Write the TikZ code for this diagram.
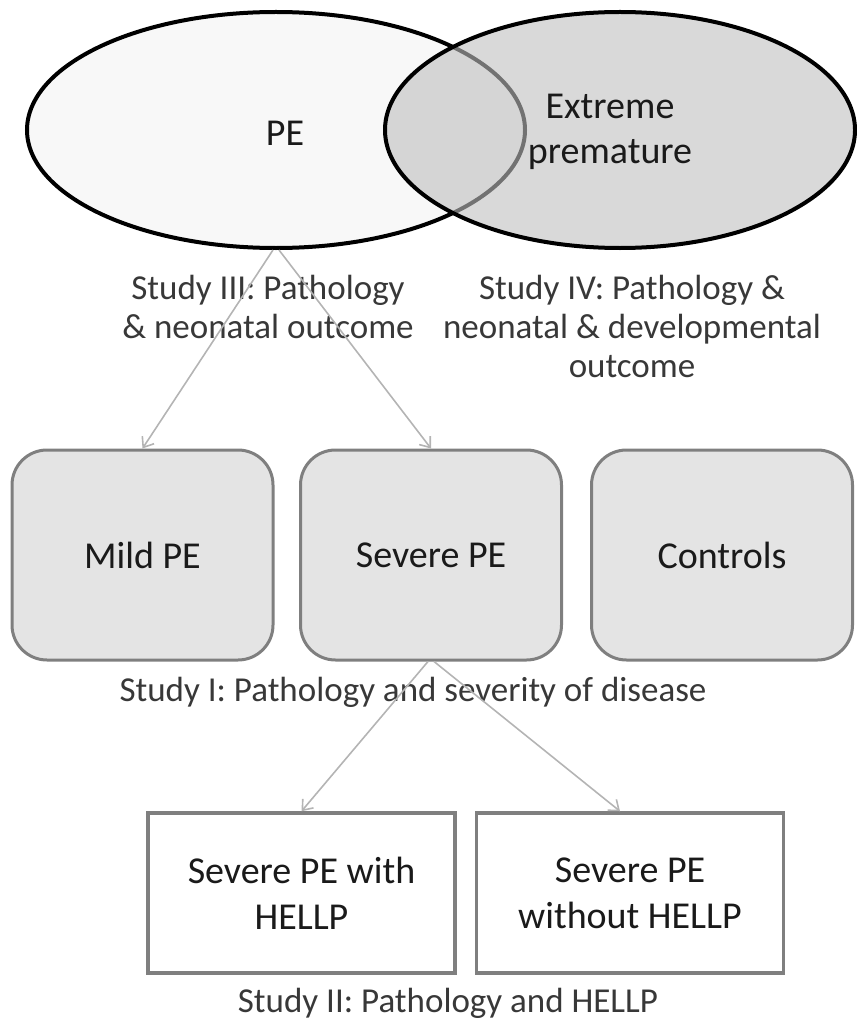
\documentclass[tikz,border=0pt]{standalone}
\usepackage{fontspec}
\setmainfont{Carlito}
\usetikzlibrary{arrows.meta,shapes.geometric}
\definecolor{lbl}{HTML}{383838}
\definecolor{txt}{HTML}{1A1A1A}
\definecolor{arr}{HTML}{B4B4B4}
\definecolor{boxdraw}{HTML}{7F7F7F}
\definecolor{boxfill}{HTML}{E4E4E4}
\definecolor{ellL}{HTML}{F8F8F8}
\definecolor{ellR}{HTML}{BFBFBF}
\tikzset{
  venn/.style={ellipse, draw=black, line width=4pt, inner sep=0pt},
  rbox/.style={draw=boxdraw, fill=boxfill, line width=3pt, rounded corners=35pt,
    minimum width=261pt, minimum height=210pt, inner sep=0pt, text=txt,
    font=\fontsize{38}{46}\selectfont},
  sbox/.style={draw=boxdraw, fill=white, line width=3.5pt,
    minimum width=307pt, minimum height=160pt, inner sep=0pt, text=txt, align=center,
    font=\fontsize{38}{46}\selectfont},
  studylbl/.style={text=lbl, align=center, font=\fontsize{35}{39}\selectfont, inner sep=0pt},
  conn/.style={draw=arr, line width=1.6pt, -{Straight Barb[length=9pt,width=14pt,line width=1.6pt]}},
}
\begin{document}
\begin{tikzpicture}[x=1pt,y=-1pt]
\useasboundingbox (0,0) rectangle (856,1019);
% Venn
\node[venn, fill=ellL, minimum width=498pt, minimum height=236pt] (pe) at (276,130) {};
\node[venn, fill=ellR, fill opacity=0.6, minimum width=470pt, minimum height=236pt] (ext) at (620,130) {};
\node[text=txt, font=\fontsize{38}{46}\selectfont, inner sep=0pt] (petxt) at (285,133) {PE};
\node[text=txt, align=center, font=\fontsize{38}{45}\selectfont, inner sep=0pt] (exttxt) at (610,132) {Extreme\\premature};
% study labels
\node[studylbl] (s3) at (268,307) {Study III: Pathology\\\& neonatal outcome};
\node[studylbl] (s4) at (632,326) {Study IV: Pathology \&\\neonatal \& developmental\\outcome};
% boxes
\node[rbox] (mild) at (142.5,555) {Mild PE};
\node[rbox] (severe) at (431,555) {Severe PE};
\node[rbox] (ctrl) at (722,555) {Controls};
\node[studylbl] (s1) at (413,692) {Study I: Pathology and severity of disease};
\node[sbox] (hellp) at (301.5,893) {Severe PE with\\HELLP};
\node[sbox] (nohellp) at (630,893) {Severe PE\\without HELLP};
\node[studylbl] (s2) at (448,1003) {Study II: Pathology and HELLP};
% connectors
\draw[conn] ([xshift=-3pt]pe.south) -- (mild.north);
\draw[conn] ([xshift=3pt]pe.south) -- (severe.north);
\draw[conn] ([xshift=-3pt]severe.south) -- (hellp.north);
\draw[conn] ([xshift=3pt]severe.south) -- ([xshift=-10pt]nohellp.north);
\end{tikzpicture}
\end{document}
